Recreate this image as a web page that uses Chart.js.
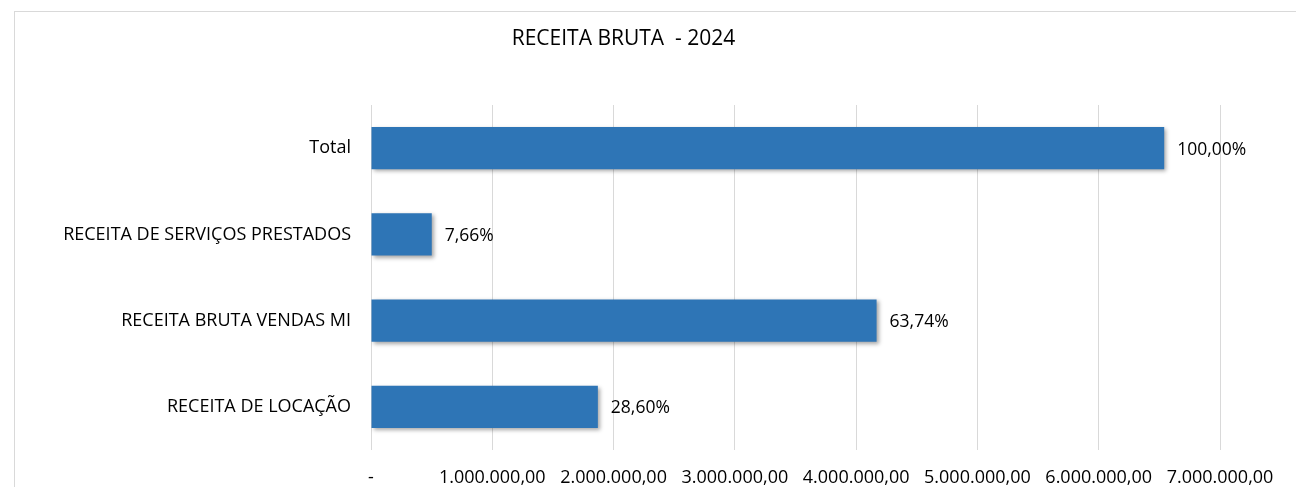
<!DOCTYPE html>
<html>
<head>
<meta charset="utf-8">
<script src="https://cdn.jsdelivr.net/npm/chart.js@4"></script>
<style>
    html, body { margin: 0; padding: 0; background: #ffffff; overflow: hidden; }
    #frame {
        position: absolute; left: 14px; top: 11px; width: 1290px; height: 485px;
        border-left: 1px solid #d9d9d9; border-top: 1px solid #d9d9d9;
    }
    #wrap { position: absolute; left: 15px; top: 12px; width: 1281px; height: 475px; }
</style>
</head>
<body>
<div id="frame"></div>
<div id="wrap"><canvas id="chartCanvas"></canvas></div>
<script>
// Chart data
const chartTitle = 'RECEITA BRUTA  - 2024';
const categories = ['Total', 'RECEITA DE SERVIÇOS PRESTADOS', 'RECEITA BRUTA VENDAS MI', 'RECEITA DE LOCAÇÃO'];
const revenueValues = [6540000, 501000, 4168600, 1870400];
const shareLabels = ['100,00%', '7,66%', '63,74%', '28,60%'];
const tickValues = [0, 1000000, 2000000, 3000000, 4000000, 5000000, 6000000, 7000000];

const fontFamily = '"Open Sans", Lato, sans-serif';
const textColor = '#000000';

// Format axis ticks like pt-BR accounting numbers
function formatTick(value) {
    if (value === 0) return '-';
    return value.toLocaleString('pt-BR', { minimumFractionDigits: 2, maximumFractionDigits: 2 });
}

// Shadow under the bars
const barShadow = {
    id: 'barShadow',
    beforeDatasetDraw(chart) {
        const ctx = chart.ctx;
        ctx.save();
        ctx.shadowColor = 'rgba(0, 0, 0, 0.35)';
        ctx.shadowBlur = 4;
        ctx.shadowOffsetX = 2;
        ctx.shadowOffsetY = 2;
    },
    afterDatasetDraw(chart) {
        chart.ctx.restore();
    }
};

// Percentage labels at the end of the bars
const shareLabelsPlugin = {
    id: 'shareLabels',
    afterDatasetsDraw(chart) {
        const ctx = chart.ctx;
        const meta = chart.getDatasetMeta(0);
        ctx.save();
        ctx.font = '17.5px ' + fontFamily;
        ctx.fillStyle = textColor;
        ctx.textAlign = 'left';
        ctx.textBaseline = 'middle';
        meta.data.forEach((bar, i) => {
            ctx.fillText(shareLabels[i], bar.x + 13, bar.y + 1.5);
        });
        ctx.restore();
    }
};

// Title sits a bit left of centre, like the original
const titlePlugin = {
    id: 'offsetTitle',
    afterDraw(chart) {
        const ctx = chart.ctx;
        ctx.save();
        ctx.font = '21px ' + fontFamily;
        ctx.fillStyle = textColor;
        ctx.textAlign = 'center';
        ctx.textBaseline = 'middle';
        ctx.fillText(chartTitle, chart.width * 0.475, 27);
        ctx.restore();
    }
};

const ctx = document.getElementById('chartCanvas').getContext('2d');
const chart = new Chart(ctx, {
    type: 'bar',
    data: {
        labels: categories,
        datasets: [{
            data: revenueValues,
            backgroundColor: '#2e75b6',
            borderWidth: 0,
            categoryPercentage: 1,
            barPercentage: 0.49
        }]
    },
    options: {
        indexAxis: 'y',
        responsive: true,
        maintainAspectRatio: false,
        animation: false,
        layout: {
            padding: { top: 93, right: 76, left: 0, bottom: 0 }
        },
        plugins: {
            legend: { display: false },
            title: { display: false },
            tooltip: { enabled: false }
        },
        scales: {
            x: {
                min: 0,
                max: 7000000,
                afterBuildTicks(scale) {
                    scale.ticks = tickValues.map(v => ({ value: v }));
                },
                afterFit(scale) {
                    scale.height = 37;
                },
                grid: {
                    color: '#d9d9d9',
                    lineWidth: 1,
                    drawTicks: false
                },
                border: { display: false },
                ticks: {
                    color: textColor,
                    font: { family: fontFamily, size: 18 },
                    padding: 17,
                    maxRotation: 0,
                    autoSkip: false,
                    callback: (value) => formatTick(value)
                }
            },
            y: {
                afterFit(scale) {
                    scale.width = 356;
                },
                grid: { display: false },
                border: { display: false },
                ticks: {
                    color: textColor,
                    font: { family: fontFamily, size: 18 },
                    padding: 12
                }
            }
        }
    },
    plugins: [barShadow, shareLabelsPlugin, titlePlugin]
});
</script>
</body>
</html>
